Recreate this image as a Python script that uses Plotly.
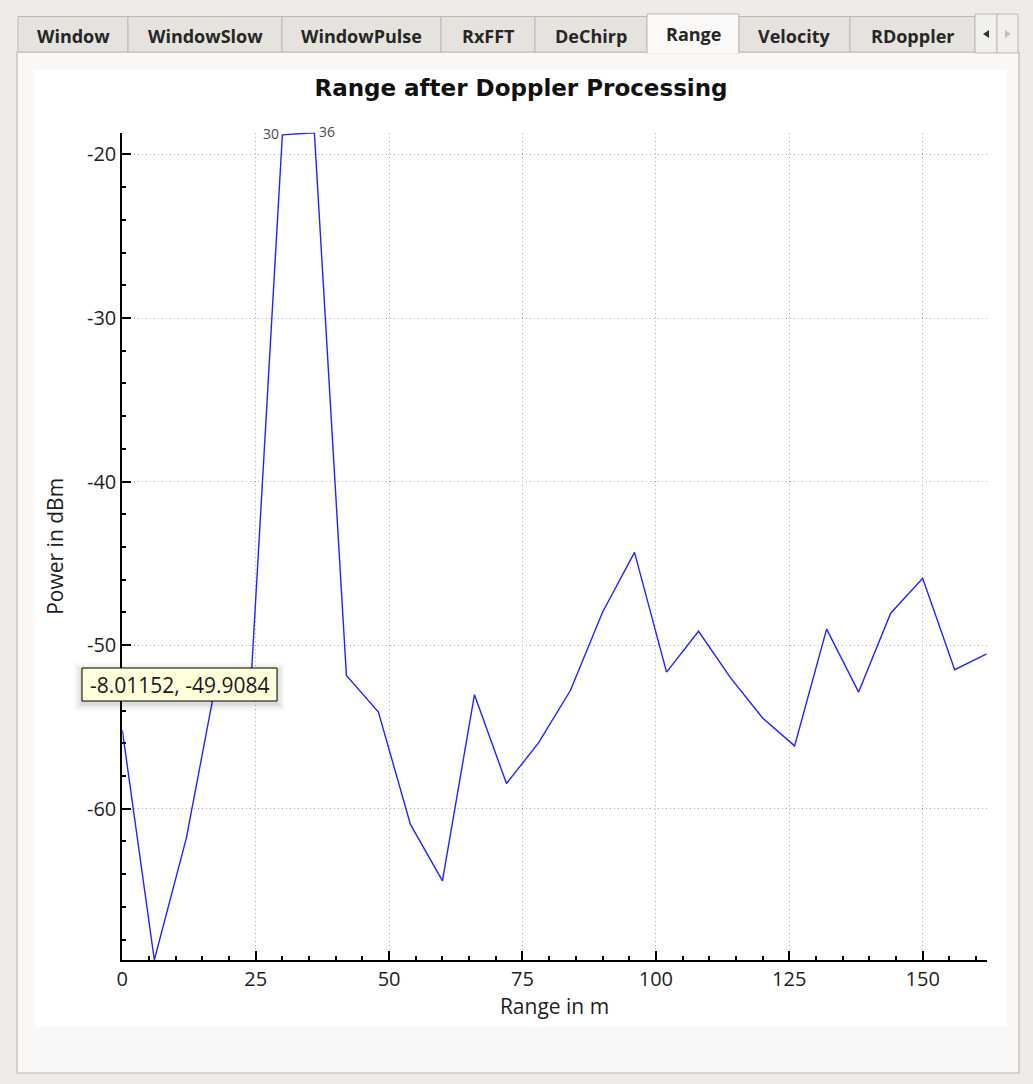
import plotly.graph_objects as go

W, H = 1033, 1084

# ---- data ----
range_m = [0, 6, 12, 18, 24, 30, 36, 42, 48, 54, 60, 66, 72, 78, 84, 90, 96,
           102, 108, 114, 120, 126, 132, 138, 144, 150, 156, 162]
power_dbm = [-55.2, -69.25, -61.8, -51.5, -52.9, -18.8, -18.67, -51.85, -54.09,
             -60.96, -64.41, -53.03, -58.46, -55.98, -52.76, -47.99, -44.33,
             -51.65, -49.15, -52.0, -54.45, -56.16, -49.02, -52.87, -48.05,
             -45.91, -51.5, -50.53]
x_ticks = [0, 25, 50, 75, 100, 125, 150]
x_tick_text = ["0", "25", "50", "75", "100", "125", "150"]
y_ticks = [-60, -50, -40, -30, -20]
y_tick_text = ["-60", "-50", "-40", "-30", "-20"]
peak_labels = ["30", "36"]
peak_x = [30, 36]
tabs = ["Window", "WindowSlow", "WindowPulse", "RxFFT", "DeChirp", "Range", "Velocity", "RDoppler"]
tab_edges = [18, 128, 282, 441, 535, 647, 739, 850, 975]
selected_tab = "Range"
tooltip_text = "-8.01152, -49.9084"


def px(x):
    return x / W


def py(y):
    return 1 - y / H


WIN_BG = "#efece8"
PANE_BG = "#faf8f6"
BORDER = "#bdb8b2"
TXT = "#1e1e1e"

fig = go.Figure()
fig.add_trace(go.Scatter(x=range_m, y=power_dbm, mode="lines",
                         line=dict(color="#2222ff", width=1.4),
                         hoverinfo="skip", showlegend=False))

shapes = []
annotations = []

# pane
shapes.append(dict(type="rect", xref="paper", yref="paper", layer="below",
                   x0=px(17), x1=px(1019), y0=py(1073), y1=py(52),
                   fillcolor=PANE_BG, line=dict(color=BORDER, width=1.2)))
# white plot canvas
shapes.append(dict(type="rect", xref="paper", yref="paper", layer="below",
                   x0=px(34), x1=px(1007), y0=py(1027), y1=py(70),
                   fillcolor="#ffffff", line=dict(width=0)))

# tabs
for i, name in enumerate(tabs):
    x0, x1 = tab_edges[i], tab_edges[i + 1]
    sel = name == selected_tab
    top = 14 if sel else 16.5
    bot = 53 if sel else 52
    shapes.append(dict(type="rect", xref="paper", yref="paper", layer="below",
                       x0=px(x0), x1=px(x1), y0=py(bot), y1=py(top),
                       fillcolor="#fbfaf9" if sel else "#e6e3df",
                       line=dict(color=BORDER, width=1)))
    if sel:
        shapes.append(dict(type="line", xref="paper", yref="paper", layer="below",
                           x0=px(x0 + 0.8), x1=px(x1 - 0.8), y0=py(52.5), y1=py(52.5),
                           line=dict(color="#fbfaf9", width=2)))
    annotations.append(dict(xref="paper", yref="paper", x=px((x0 + x1) / 2),
                            y=py(34 if sel else 36), text="<b>%s</b>" % name,
                            showarrow=False, xanchor="center", yanchor="middle",
                            font=dict(family="Open Sans", size=18, color="#262626")))

# scroll buttons
for bx0, bx1, pts, col in [(975, 997, [(983, 34), (989, 30), (989, 38)], "#333333"),
                           (997, 1018, [(1011, 34), (1005, 30), (1005, 38)], "#c4c0bb")]:
    shapes.append(dict(type="rect", xref="paper", yref="paper", layer="below",
                       x0=px(bx0), x1=px(bx1), y0=py(53), y1=py(14),
                       fillcolor="#f2f0ed", line=dict(color=BORDER, width=1)))
    path = "M %f %f L %f %f L %f %f Z" % (px(pts[0][0]), py(pts[0][1]), px(pts[1][0]),
                                          py(pts[1][1]), px(pts[2][0]), py(pts[2][1]))
    shapes.append(dict(type="path", xref="paper", yref="paper", path=path,
                       fillcolor=col, line=dict(width=0)))

# tooltip soft shadow + box
for pad, op in [(8, 0.025), (6, 0.03), (4, 0.04), (2, 0.05)]:
    shapes.append(dict(type="rect", xref="paper", yref="paper", layer="above",
                       x0=px(82 - pad), x1=px(277 + pad), y0=py(701 + pad + 2), y1=py(668 - pad + 3),
                       fillcolor="rgba(0,0,0,%f)" % op, line=dict(width=0)))
shapes.append(dict(type="rect", xref="paper", yref="paper", layer="above",
                   x0=px(82), x1=px(277), y0=py(701), y1=py(668),
                   fillcolor="#ffffdc", line=dict(color="#000000", width=1)))
annotations.append(dict(xref="paper", yref="paper", x=px(179.5), y=py(685),
                        text=tooltip_text, showarrow=False, xanchor="center",
                        yanchor="middle",
                        font=dict(family="Open Sans", size=21, color="#1a1a1a")))

# peak labels
for lbl, xv in zip(peak_labels, peak_x):
    yv = power_dbm[range_m.index(xv)]
    annotations.append(dict(x=xv, y=yv, xref="x", yref="y", text=lbl, showarrow=False,
                            xanchor="right" if xv == peak_x[0] else "left",
                            xshift=-1 if xv == peak_x[0] else 3, yshift=1,
                            yanchor="middle",
                            font=dict(family="Open Sans", size=14, color="#4a4a4a")))

ymin, ymax = min(power_dbm), max(power_dbm)

fig.update_layout(
    width=W, height=H,
    margin=dict(l=0, r=0, t=0, b=0),
    paper_bgcolor=WIN_BG, plot_bgcolor="#ffffff",
    shapes=shapes, annotations=annotations,
    title=dict(text="<b>Range after Doppler Processing</b>", x=px(521), y=py(88),
               xanchor="center", yanchor="middle",
               font=dict(family="DejaVu Sans", size=23, color="#111111")),
    xaxis=dict(domain=[px(122.3), px(986.7)], range=[0, max(range_m)], automargin=False,
               tickvals=x_ticks, ticktext=x_tick_text, ticks="inside", ticklen=9, tickwidth=1.5,
               tickcolor="#000000", showline=True, linecolor="#000000", linewidth=2,
               showgrid=True, gridcolor="#a8a8a8", griddash="1px,3px", gridwidth=1,
               zeroline=False,
               minor=dict(dtick=5, tick0=0, ticks="inside", ticklen=4, tickcolor="#000000",
                          showgrid=False),
               tickfont=dict(family="Open Sans", size=20, color=TXT),
               title=dict(text="Range in m", standoff=4,
                          font=dict(family="Open Sans", size=21, color=TXT))),
    yaxis=dict(domain=[py(960), py(132.7)], range=[ymin, ymax], automargin=False,
               tickvals=y_ticks, ticktext=y_tick_text, ticks="inside", ticklen=9, tickwidth=1.5,
               tickcolor="#000000", showline=True, linecolor="#000000", linewidth=2,
               showgrid=True, gridcolor="#a8a8a8", griddash="1px,3px", gridwidth=1,
               zeroline=False,
               minor=dict(dtick=2, tick0=-70, ticks="inside", ticklen=4, tickcolor="#000000",
                          showgrid=False),
               tickfont=dict(family="Open Sans", size=20, color=TXT),
               title=dict(text="Power in dBm", standoff=18,
                          font=dict(family="Open Sans", size=21, color=TXT))),
)

fig.write_html("out.html")
